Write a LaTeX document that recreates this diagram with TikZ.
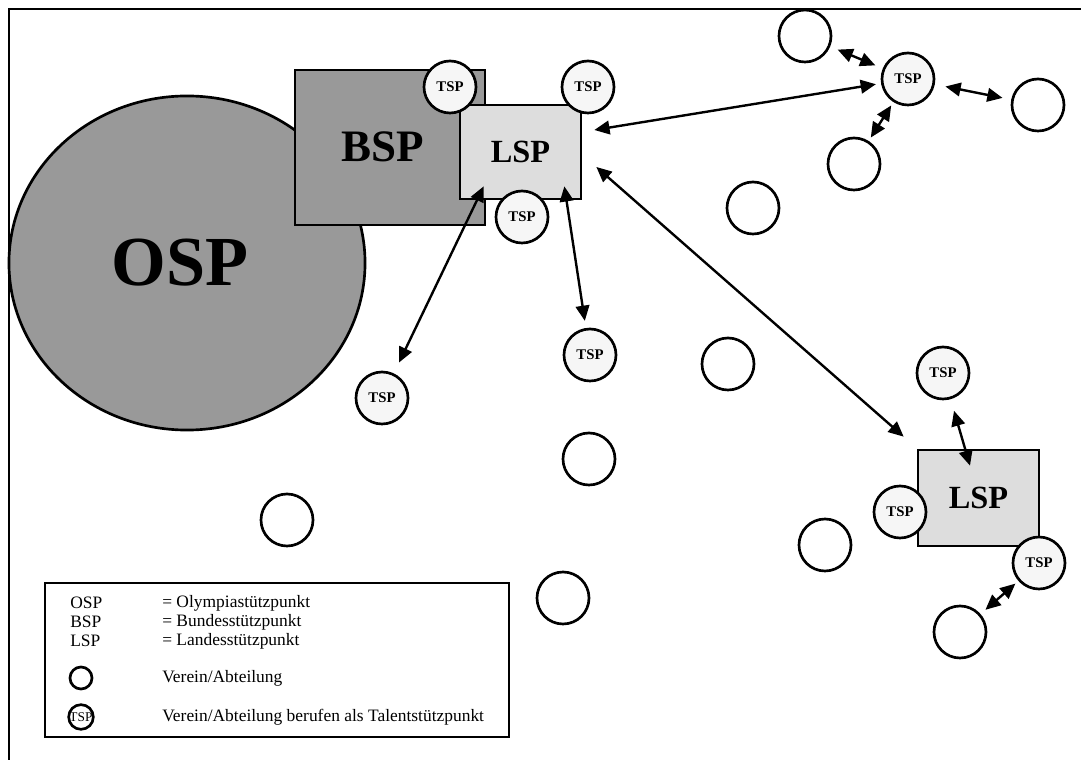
\documentclass[tikz,border=0pt]{standalone}
\usepackage{fontspec}
\setmainfont{Liberation Serif}
\usepackage{tikz}
\usetikzlibrary{positioning, shapes.geometric, arrows.meta, calc}

\definecolor{ospgray}{HTML}{999999}
\definecolor{lspgray}{HTML}{DDDDDD}
\definecolor{tspfill}{HTML}{F6F6F6}

\begin{document}
\begin{tikzpicture}[x=0.025cm, y=-0.025cm,
			club/.style={circle, draw=black, line width=1.9pt, fill=white, minimum size=1.3cm, inner sep=0pt},
			talent/.style={club, fill=tspfill, font=\bfseries\fontsize{10.5}{12}\selectfont},
			centre/.style={rectangle, draw=black, line width=1.9pt, inner sep=0pt, font=\bfseries},
			link/.style={{Triangle[length=3.8mm, width=3.4mm]}-{Triangle[length=3.8mm, width=3.4mm]}, line width=1.7pt},
			legtext/.style={anchor=west, inner sep=0pt, font=\fontsize{12.4}{14}\selectfont}
			]
			\useasboundingbox (0,0) rectangle (1081,760);
			\draw[line width=1pt] (9,760) -- (9,9) -- (1081,9);
			
			% Stuetzpunkte
			\node[ellipse, draw=black, line width=1.9pt, fill=ospgray, minimum width=8.9cm, minimum height=8.35cm, inner sep=0pt] (osp) at (187,263) {};
			\node[font=\bfseries\fontsize{50}{60}\selectfont] at (180,263) {OSP};
			\node[centre, fill=ospgray, minimum width=4.75cm, minimum height=3.875cm] (bsp) at (390,147.5) {};
			\node[font=\bfseries\fontsize{32}{38}\selectfont] at (383,147) {BSP};
			\node[centre, fill=lspgray, minimum width=3.025cm, minimum height=2.35cm, font=\bfseries\fontsize{23}{28}\selectfont] (lspa) at (520.5,152) {LSP};
			\node[centre, fill=lspgray, minimum width=3.025cm, minimum height=2.4cm, font=\bfseries\fontsize{23}{28}\selectfont] (lspb) at (978.5,498) {LSP};
			
			% Talentstuetzpunkte
			\node[talent] (tspa) at (450,87) {TSP};
			\node[talent] (tspb) at (588,87) {TSP};
			\node[talent] (tspc) at (522,217) {TSP};
			\node[talent] (tspd) at (382,398) {TSP};
			\node[talent] (tspe) at (590,355) {TSP};
			\node[talent] (tspf) at (908,79) {TSP};
			\node[talent] (tspg) at (943,373) {TSP};
			\node[talent] (tsph) at (900,512) {TSP};
			\node[talent] (tspi) at (1039,563) {TSP};
			
			% Vereine
			\node[club] (ca) at (805,36) {};
			\node[club] (cb) at (1038,105) {};
			\node[club] (cc) at (854,164) {};
			\node[club] (cd) at (753,208) {};
			\node[club] (ce) at (728,364) {};
			\node[club] (cf) at (589,459) {};
			\node[club] (cg) at (287,520) {};
			\node[club] (ch) at (825,545) {};
			\node[club] (ci) at (563,598) {};
			\node[club] (cj) at (960,632) {};
			
			% Verbindungen
			\draw[link, shorten <=3mm] (tspd) -- ([shift={(25,-14)}]lspa.south west);
			\draw[link, shorten <=1.8mm] (tspe) -- ([shift={(-18,-14)}]lspa.south east);
			\draw[link, shorten >=1.3mm] ([shift={(12,-22)}]lspa.east) -- (tspf);
			\draw[link] ([shift={(14,15)}]lspa.east) -- ([shift={(-13,-12)}]lspb.north west);
			\draw[link, shorten <=2mm, shorten >=2mm] (ca) -- (tspf);
			\draw[link, shorten <=2.7mm, shorten >=2.2mm] (tspf) -- (cb);
			\draw[link, shorten <=1mm, shorten >=1mm] (tspf) -- (cc);
			\draw[link, shorten <=3mm] (tspg) -- ([shift={(-8.5,17)}]lspb.north);
			\draw[link, shorten <=1mm, shorten >=1.6mm] (tspi) -- (cj);
			
			% Legende
			\node[draw=black, line width=1.9pt, minimum width=11.6cm, minimum height=3.85cm, inner sep=0pt] (legend) at (277,660) {};
			\node[legtext] (l1) at (70,603) {OSP};
			\node[legtext] (l2) at (70,622) {BSP};
			\node[legtext] (l3) at (70,641) {LSP};
			\node[circle, draw=black, line width=1.9pt, minimum size=0.55cm, inner sep=0pt] (l4) at (81,678) {};
			\node[circle, draw=black, line width=1.9pt, minimum size=0.55cm, inner sep=0pt, font=\fontsize{9.5}{10}\selectfont] (l5) at (81,717) {TSP};
			\node[legtext] (t1) at (162,603) {= Olympiastützpunkt};
			\node[legtext] (t2) at (162,622) {= Bundesstützpunkt};
			\node[legtext] (t3) at (162,641) {= Landesstützpunkt};
			\node[legtext] (t4) at (162,678) {Verein/Abteilung};
			\node[legtext] (t5) at (162,717) {Verein/Abteilung berufen als Talentstützpunkt};
		\end{tikzpicture}
\end{document}
